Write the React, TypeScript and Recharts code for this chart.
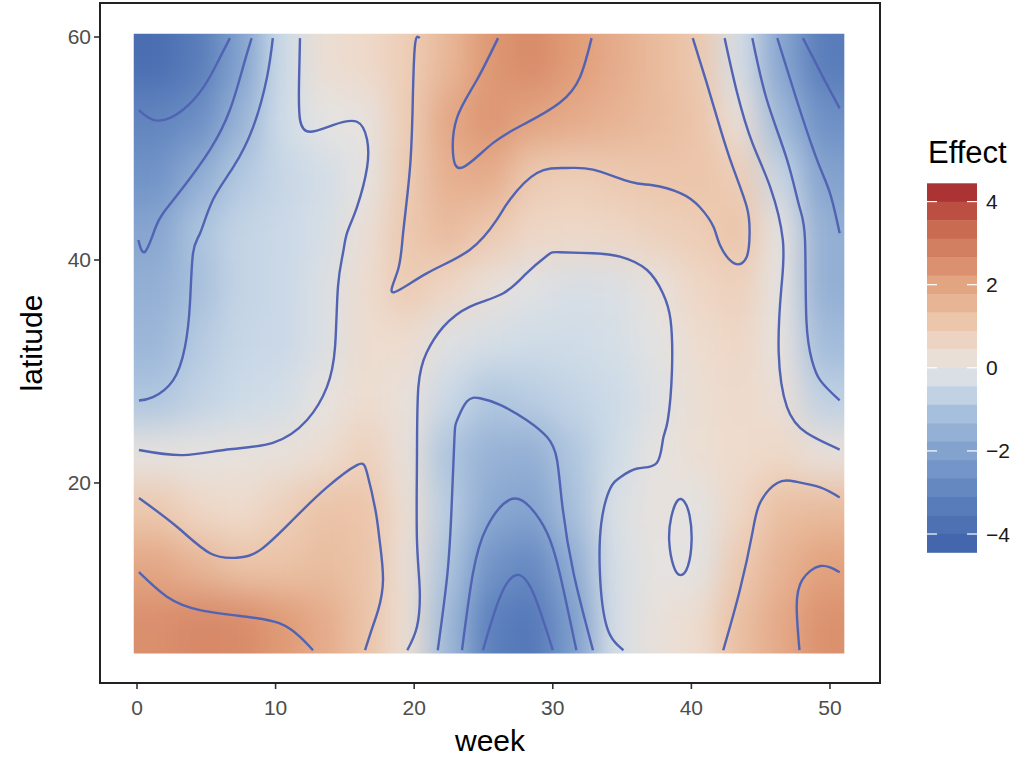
import React from 'react'
import { ComposedChart, XAxis, YAxis, Scatter, Line, ReferenceArea } from 'recharts'

// grid of the effect surface (cell centres)
const WEEKS = [1.5, 4.5, 7.5, 10.5, 13.5, 16.5, 19.5, 22.5, 25.5, 28.5, 31.5, 34.5, 37.5, 40.5, 43.5, 46.5, 49.5]
const LATS = [57.5, 52.5, 47.5, 42.5, 37.5, 32.5, 27.5, 22.5, 17.5, 12.5, 7.5]

const EFFECT_ROWS = [
  [-3.9, -3.3, -2.05, -0.45, 0.3, 0.5, 0.9, 1.5, 2.3, 2.6, 2.2, 1.8, 1.4, 1.05, -0.3, -1.9, -3.3], // 57.5
  [-3.0, -2.7, -1.5, -0.4, 0.0, 0.05, 0.9, 1.9, 2.35, 2.0, 1.8, 1.6, 1.4, 1.15, 0.2, -1.3, -2.6], // 52.5
  [-2.5, -1.7, -0.9, -0.55, -0.35, 0.0, 0.95, 1.7, 1.8, 1.0, 0.85, 1.0, 1.1, 1.15, 0.9, -0.55, -2.0], // 47.5
  [-1.9, -1.0, -0.6, -0.5, -0.3, 0.25, 1.05, 1.4, 1.0, 0.6, 0.55, 0.6, 0.75, 0.9, 1.15, 0.0, -1.6], // 42.5
  [-1.6, -1.1, -0.6, -0.5, -0.2, 0.4, 0.95, 0.6, 0.2, -0.1, -0.25, -0.2, 0.1, 0.6, 0.8, 0.0, -1.6], // 37.5
  [-1.4, -0.85, -0.55, -0.5, -0.2, 0.4, 0.4, -0.15, -0.3, -0.4, -0.4, -0.3, -0.05, 0.4, 0.6, 0.05, -1.2], // 32.5
  [-0.95, -0.65, -0.45, -0.35, 0.05, 0.4, 0.15, -0.5, -0.95, -0.8, -0.6, -0.45, -0.15, 0.3, 0.5, 0.25, -0.7], // 27.5
  [0.05, 0.05, 0.1, 0.15, 0.35, 0.8, 0.15, -1.0, -1.5, -1.6, -0.95, -0.4, 0.05, 0.3, 0.45, 0.55, 0.15], // 22.5
  [1.05, 0.6, 0.45, 0.8, 1.2, 1.15, 0.3, -0.8, -1.8, -2.0, -1.1, -0.2, 0.1, -0.05, 0.6, 1.3, 1.4], // 17.5
  [1.9, 1.55, 1.2, 1.2, 1.35, 1.2, 0.25, -1.0, -2.5, -2.9, -1.7, -0.3, 0.05, -0.05, 1.0, 1.6, 2.05], // 12.5
  [2.5, 2.65, 2.6, 2.25, 1.8, 1.2, 0.3, -1.3, -3.2, -3.5, -2.2, -0.3, 0.15, 0.4, 1.3, 1.85, 2.45], // 7.5
]

// contour lines, [week, latitude]
const contourA = [[0.14, 53.45], [1.5, 52.5], [3.3, 53.45], [4.8, 55.5], [5.8, 57.7], [6.7, 59.9]]
const contourB = [[8.27, 59.9], [7.65, 57.3], [6.7, 53.45], [5.27, 49.9], [3.32, 46.5], [1.88, 44.2], [1.3, 42.8], [0.58, 40.74], [0.1, 41.8]]
const contourC = [[9.8, 59.9], [9.38, 56.4], [8.37, 51.9], [6.93, 48.3], [5.48, 45.4], [4.55, 42.4], [4.04, 40.6], [3.82, 36.1], [3.46, 32.2], [2.6, 29.2], [1.15, 27.7], [0.14, 27.4]]
const contourD = [[11.76, 59.9], [11.69, 55.9], [11.76, 52.6], [12.48, 51.5], [14.14, 52.1], [15.87, 52.4], [16.6, 50.8], [16.6, 48.3], [15.87, 44.75], [15.15, 42.4], [14.86, 40.6], [14.5, 37.6], [14.29, 32.2], [13.7, 28.6], [12.27, 25.65], [9.8, 23.6], [6.5, 23.0], [3.3, 22.5], [0.14, 22.96]]
const contourE = [[20.4, 59.9], [20.06, 59.3], [19.9, 54.35], [19.7, 48.3], [19.2, 42.4], [18.83, 39.1], [18.47, 37.1], [20.9, 38.8], [24.0, 40.9], [25.95, 43.6], [26.9, 45.4], [28.86, 47.8], [31.0, 48.25], [32.9, 48.1], [35.6, 47.0], [37.2, 46.7], [39.2, 46.0], [40.6, 44.75], [41.6, 42.96], [42.06, 41.35], [43.1, 39.7], [44.0, 40.3], [44.2, 42.4], [44.0, 44.75], [43.0, 48.3], [42.06, 51.9], [41.1, 55.9], [40.1, 59.9]]
const contourF = [[26.05, 59.9], [24.5, 56.1], [23.1, 52.8], [22.8, 49.6], [23.5, 48.3], [25.7, 50.5], [28.1, 52.3], [30.5, 54.1], [31.96, 56.4], [32.8, 59.9]]
const contourG = [[42.4, 59.9], [43.3, 55.0], [44.4, 50.5], [45.7, 46.5], [46.6, 41.8], [46.5, 37.6], [46.3, 31.7], [46.9, 26.8], [48.3, 24.5], [50.7, 23.0]]
const contourH = [[44.4, 59.9], [45.45, 54.35], [46.9, 49.0], [47.8, 44.75], [48.2, 41.8], [48.3, 34.6], [48.7, 31.0], [49.3, 29.2], [50.7, 27.4]]
const contourI = [[46.2, 59.9], [47.6, 54.35], [49.06, 49.0], [50.0, 46.0], [50.7, 42.4]]
const contourJ = [[48.05, 59.9], [49.5, 56.4], [50.7, 53.6]]
const contourK = [[0.14, 12.0], [2.16, 9.8], [4.55, 8.6], [7.9, 8.0], [10.3, 7.4], [11.76, 6.2], [12.7, 5.0]]
const contourL = [[0.14, 18.65], [2.9, 16.05], [5.27, 13.7], [7.2, 13.3], [8.9, 14.0], [11.25, 16.7], [13.7, 19.6], [15.87, 21.6], [16.6, 20.9], [17.2, 17.6], [17.5, 14.9], [17.75, 11.3], [17.4, 8.6], [17.0, 7.1], [16.45, 5.0]]
const contourN = [[19.5, 5.0], [20.2, 7.1], [20.4, 10.4], [20.2, 14.9], [20.2, 22.1], [20.3, 28.6], [20.9, 31.7], [22.1, 34.0], [24.0, 35.8], [26.4, 37.0], [28.1, 38.8], [29.6, 40.4], [30.5, 40.7], [32.9, 40.6], [34.85, 40.3], [36.8, 39.1], [37.95, 37.0], [38.5, 34.6], [38.6, 30.1], [38.3, 25.65], [37.95, 23.9], [37.5, 21.8], [36.1, 21.3], [34.85, 20.5], [34.1, 19.4], [33.5, 16.4], [33.4, 11.9], [33.9, 7.1], [35.1, 5.0]]
const contourO = [[21.7, 5.0], [22.4, 11.9], [22.7, 17.85], [22.9, 23.9], [23.1, 25.65], [23.8, 27.3], [24.75, 27.6], [26.2, 27.0], [28.1, 25.65], [29.6, 24.1], [30.3, 22.1], [30.7, 17.85], [31.5, 11.9], [32.9, 5.0]]
const contourP = [[23.45, 5.0], [24.24, 11.9], [25.25, 16.05], [26.9, 18.5], [28.35, 17.85], [29.6, 15.5], [30.5, 11.9], [31.7, 5.0]]
const contourQ = [[24.96, 5.0], [26.2, 9.8], [27.4, 11.75], [28.6, 10.1], [30.0, 5.0]]
const contourS = [[39.0, 18.75], [38.5, 17.0], [38.3, 14.9], [38.7, 12.2], [39.2, 11.5], [39.8, 12.2], [40.1, 14.9], [39.9, 17.3], [39.5, 18.5]]
const contourT = [[42.3, 5.0], [43.5, 10.4], [44.4, 15.5], [44.95, 18.2], [46.2, 20.0], [47.6, 20.1], [49.3, 19.6], [50.7, 18.7]]
const contourU = [[47.8, 5.0], [47.6, 8.9], [48.0, 11.3], [49.3, 12.55], [50.7, 12.0]]

const OPEN_CONTOURS = [contourA, contourB, contourC, contourD, contourE, contourF, contourG, contourH, contourI, contourJ, contourK, contourL, contourN, contourO, contourP, contourQ, contourT, contourU]
const CLOSED_CONTOURS = [contourS]

const X_TICKS = [0, 10, 20, 30, 40, 50]
const Y_TICKS = [20, 40, 60]
const LEGEND_TICKS = [4, 2, 0, -2, -4]
const LEGEND_LIMITS = [-4.44, 4.44]
const LEGEND_BINS = 20

const PALETTE_VALUES = [-4.44, -3.33, -2.22, -1.11, -0.44, 0, 0.44, 1.11, 2.22, 3.33, 4.44]
const PALETTE_COLORS = ['#3f60aa', '#587cba', '#7a9bcb', '#a6bfdc', '#cddbe8', '#e5e3e1', '#eedbcd', '#ecc6ab', '#e09b76', '#c96b51', '#a3252c']

// layout
const FONT = '"Liberation Sans", Arial, Helvetica, sans-serif'
const CHART_W = 1031
const CHART_H = 760
const MARGIN = { top: 3, right: 151, bottom: 0, left: 0 }
const Y_AXIS_W = 100
const X_AXIS_H = 77
const X_DOMAIN: [number, number] = [-2.67, 53.61]
const Y_DOMAIN: [number, number] = [2.06, 63.05]
const PLOT_W = CHART_W - MARGIN.left - MARGIN.right - Y_AXIS_W
const PLOT_H = CHART_H - MARGIN.top - MARGIN.bottom - X_AXIS_H
const PX_PER_WEEK = PLOT_W / (X_DOMAIN[1] - X_DOMAIN[0])
const PX_PER_DEG = PLOT_H / (Y_DOMAIN[1] - Y_DOMAIN[0])
const CELL_W = 3
const CELL_H = 5
// the raster reaches a little past the outer cell edges
const PAD = { left: 0.2, right: 0, top: 0.25, bottom: 0.25 }
// outer cells are stretched by this much and clipped back, so the blur keeps square edges
const EXT = 40
const LINE_COLOR = '#5163b3'

function hexToRgb(h: string) {
  const n = parseInt(h.slice(1), 16)
  return [(n >> 16) & 255, (n >> 8) & 255, n & 255]
}

function effectColor(v: number) {
  const vs = PALETTE_VALUES
  if (v <= vs[0]) return PALETTE_COLORS[0]
  if (v >= vs[vs.length - 1]) return PALETTE_COLORS[vs.length - 1]
  let i = 0
  while (v > vs[i + 1]) i++
  const t = (v - vs[i]) / (vs[i + 1] - vs[i])
  const a = hexToRgb(PALETTE_COLORS[i])
  const b = hexToRgb(PALETTE_COLORS[i + 1])
  const c = a.map((x, k) => Math.round(x + (b[k] - x) * t))
  return `rgb(${c[0]},${c[1]},${c[2]})`
}

const heatPoints = LATS.flatMap((lat, r) =>
  WEEKS.map((week, c) => ({ week, lat, v: EFFECT_ROWS[r][c], row: r, col: c }))
)

function HeatCell(props: any) {
  const { cx, cy, payload } = props
  if (cx == null || cy == null) return null
  const hw = (CELL_W / 2) * PX_PER_WEEK
  const hh = (CELL_H / 2) * PX_PER_DEG
  let x0 = cx - hw
  let x1 = cx + hw
  let y0 = cy - hh
  let y1 = cy + hh
  if (payload.col === 0) x0 -= PAD.left * PX_PER_WEEK + EXT
  if (payload.col === WEEKS.length - 1) x1 += PAD.right * PX_PER_WEEK + EXT
  if (payload.row === 0) y0 -= PAD.top * PX_PER_DEG + EXT
  if (payload.row === LATS.length - 1) y1 += PAD.bottom * PX_PER_DEG + EXT
  return <rect x={x0 - 0.5} y={y0 - 0.5} width={x1 - x0 + 1} height={y1 - y0 + 1} fill={effectColor(payload.v)} />
}

const toPoints = (c: number[][]) => c.map(([week, lat]) => ({ week, lat }))

function EffectLegend() {
  const left = 915
  const top = 130
  const barX = 12
  const barW = 50
  const barTop = 53.3
  const barH = 369
  const [lo, hi] = LEGEND_LIMITS
  const yOf = (v: number) => barTop + ((hi - v) / (hi - lo)) * barH
  const step = (hi - lo) / LEGEND_BINS
  const bins = Array.from({ length: LEGEND_BINS }, (_, i) => hi - step * (i + 0.5))
  return (
    <svg width={116} height={440} style={{ position: 'absolute', left, top, fontFamily: FONT }}>
      <text x={13} y={33} fontSize={31} fill="#000">Effect</text>
      {bins.map((v, i) => (
        <rect key={i} x={barX} y={yOf(v + step / 2)} width={barW} height={barH / LEGEND_BINS + 0.5} fill={effectColor(v)} />
      ))}
      {LEGEND_TICKS.map((t) => (
        <g key={t}>
          <line x1={barX} x2={barX + barW / 5} y1={yOf(t)} y2={yOf(t)} stroke="#fff" strokeWidth={1.2} />
          <line x1={barX + barW - barW / 5} x2={barX + barW} y1={yOf(t)} y2={yOf(t)} stroke="#fff" strokeWidth={1.2} />
          <text x={barX + barW + 9} y={yOf(t)} dy="0.36em" fontSize={21} fill="#1a1a1a">
            {t < 0 ? `\u2212${Math.abs(t)}` : t}
          </text>
        </g>
      ))}
    </svg>
  )
}

export default function App() {
  return (
    <div style={{ position: 'absolute', left: 0, top: 0, width: CHART_W, height: CHART_H, background: '#fff', fontFamily: FONT }}>
      <style>{`.recharts-scatter { filter: url(#heatBlur); clip-path: inset(${EXT}px); }`}</style>
      <svg width={0} height={0} style={{ position: 'absolute' }}>
        <defs>
          <filter id="heatBlur" x="0" y="0" width="1" height="1" colorInterpolationFilters="sRGB">
            <feGaussianBlur stdDeviation="15 19" />
            <feComponentTransfer>
              <feFuncA type="table" tableValues="0 1 1" />
            </feComponentTransfer>
          </filter>
        </defs>
      </svg>
      <ComposedChart width={CHART_W} height={CHART_H} margin={MARGIN} style={{ fontFamily: FONT }}>
        <XAxis
          dataKey="week"
          type="number"
          domain={X_DOMAIN}
          ticks={X_TICKS}
          allowDataOverflow
          height={X_AXIS_H}
          axisLine={false}
          tickSize={6}
          tickMargin={11}
          tickLine={{ stroke: '#333', strokeWidth: 1.6 }}
          tick={{ fill: '#4d4d4d', fontSize: 21 }}
          label={{ value: 'week', position: 'insideBottom', offset: 9, fill: '#000', fontSize: 30 }}
        />
        <YAxis
          dataKey="lat"
          type="number"
          domain={Y_DOMAIN}
          ticks={Y_TICKS}
          allowDataOverflow
          width={Y_AXIS_W}
          axisLine={false}
          tickSize={6}
          tickMargin={3}
          tickLine={{ stroke: '#333', strokeWidth: 1.6 }}
          tick={{ fill: '#4d4d4d', fontSize: 21 }}
          label={{ value: 'latitude', angle: -90, position: 'insideLeft', offset: 31, fill: '#000', fontSize: 30, style: { textAnchor: 'middle' } }}
        />
        <Scatter data={heatPoints} shape={HeatCell} isAnimationActive={false} zIndex={50} />
        {OPEN_CONTOURS.map((c, i) => (
          <Line
            key={`c${i}`}
            data={toPoints(c)}
            dataKey="lat"
            type="natural"
            stroke={LINE_COLOR}
            strokeWidth={2.4}
            dot={false}
            activeDot={false}
            isAnimationActive={false}
            zIndex={700}
          />
        ))}
        {CLOSED_CONTOURS.map((c, i) => (
          <Line
            key={`s${i}`}
            data={toPoints(c)}
            dataKey="lat"
            type="basisClosed"
            stroke={LINE_COLOR}
            strokeWidth={2.4}
            dot={false}
            activeDot={false}
            isAnimationActive={false}
            zIndex={700}
          />
        ))}
        <ReferenceArea
          x1={X_DOMAIN[0]}
          x2={X_DOMAIN[1]}
          y1={Y_DOMAIN[0]}
          y2={Y_DOMAIN[1]}
          ifOverflow="visible"
          fill="none"
          stroke="#222"
          strokeWidth={2}
          zIndex={800}
        />
      </ComposedChart>
      <EffectLegend />
    </div>
  )
}
